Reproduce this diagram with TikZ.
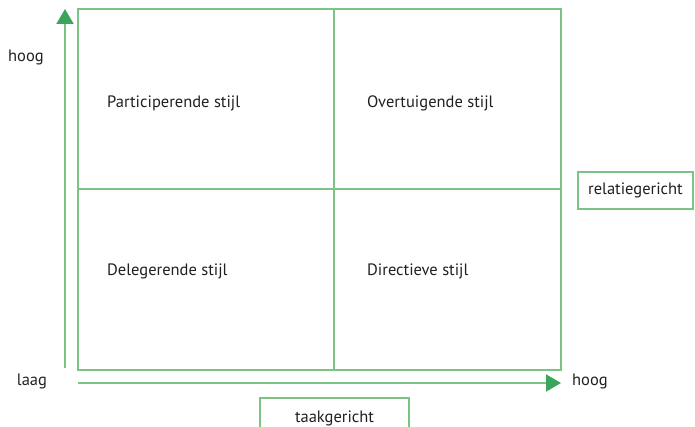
\documentclass[tikz,border=0pt]{standalone}
\usepackage{fontspec}
\setmainfont{PT Sans}
\usetikzlibrary{arrows.meta}
\definecolor{gridgreen}{HTML}{7CC483}
\definecolor{arrowgreen}{HTML}{3BA55C}
\definecolor{txt}{HTML}{231F20}
\tikzset{
  gridline/.style={draw=gridgreen, line width=1.6pt},
  axis/.style={draw=gridgreen, line width=2pt, -{Triangle[length=15pt,width=17pt,color=arrowgreen]}},
  lbl/.style={font=\fontsize{16.5}{19}\selectfont, text=txt, inner sep=0pt},
  cell/.style={lbl, anchor=west},
  boxlbl/.style={lbl, draw=gridgreen, line width=1.6pt}
}
\begin{document}
\begin{tikzpicture}[x=1pt,y=-1pt]
\useasboundingbox (0,0) rectangle (695,427);
% grid
\draw[gridline] (78,9) rectangle (561,370);
\draw[gridline] (334,9) -- (334,370);
\draw[gridline] (78,189) -- (561,189);
% axes
\coordinate (ybot) at (65,368);
\coordinate (ytop) at (65,9);
\coordinate (xleft) at (78,383);
\coordinate (xright) at (561,383);
\draw[axis] (ybot) -- (ytop);
\draw[axis] (xleft) -- (xright);
% axis labels
\node[lbl] (yhoog) at (26,57) {hoog};
\node[lbl] (laag) at (32,381) {laag};
\node[lbl] (xhoog) at (590,381) {hoog};
% cells
\node[cell] (part) at (107,103) {Participerende stijl};
\node[cell] (overt) at (367,103) {Overtuigende stijl};
\node[cell] (deleg) at (107,271) {Delegerende stijl};
\node[cell] (direct) at (367,271) {Directieve stijl};
% boxes
\node[boxlbl, minimum width=115pt, minimum height=37pt] (rel) at (635.5,190.5) {relatiegericht};
\node[boxlbl, minimum width=149pt, minimum height=40pt] (taak) at (334.5,418) {taakgericht};
\end{tikzpicture}
\end{document}
